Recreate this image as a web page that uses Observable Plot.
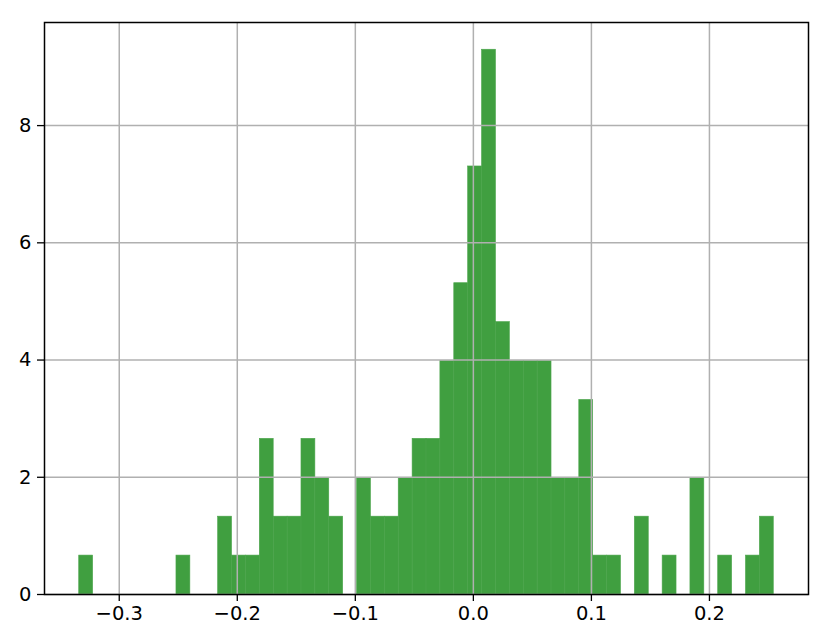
<!DOCTYPE html>
<html>
<head>
<meta charset="utf-8">
<script src="https://cdn.jsdelivr.net/npm/d3@7"></script>
<script src="https://cdn.jsdelivr.net/npm/@observablehq/plot@0.6"></script>
<style>
  html, body { margin: 0; padding: 0; background: #fff; }
  #chart { width: 831px; height: 644px; }
  #chart svg text { font-family: "DejaVu Sans", sans-serif !important; font-size: 19.5px !important; }
</style>
</head>
<body>
<div id="chart"></div>
<script>
// Histogram (density) of a sample; 50 equal bins between these edges
const binRangeMin = -0.3339;
const binRangeMax = 0.2545;
const binNumber = 50;
// counts per bin, left to right
const binCounts = [
  1, 0, 0, 0, 0, 0, 0, 1, 0, 0,
  2, 1, 1, 4, 2, 2, 4, 3, 2, 0,
  3, 2, 2, 3, 4, 4, 6, 8, 11, 14,
  7, 6, 6, 6, 3, 3, 5, 1, 1, 0,
  2, 0, 1, 0, 3, 0, 1, 0, 1, 2
];
const xTicks = [-0.3, -0.2, -0.1, 0.0, 0.1, 0.2];
const yTicks = [0, 2, 4, 6, 8];

const binW = (binRangeMax - binRangeMin) / binNumber;
const total = d3.sum(binCounts);
const bins = binCounts.map((c, i) => ({
  x1: binRangeMin + i * binW,
  x2: binRangeMin + (i + 1) * binW,
  density: c / (total * binW)
})).filter(d => d.density > 0);

const span = binRangeMax - binRangeMin;
const xDomain = [binRangeMin - 0.05 * span, binRangeMax + 0.05 * span];
const yMax = d3.max(bins, d => d.density) * 1.05;

const fmt = d => d.toFixed(1).replace("-", "\u2212");

const chart = Plot.plot({
  width: 831,
  height: 644,
  marginLeft: 44,
  marginRight: 23,
  marginTop: 22,
  marginBottom: 50,
  style: { fontFamily: "DejaVu Sans", fontSize: "19.5px", color: "black", background: "white" },
  x: { domain: xDomain },
  y: { domain: [0, yMax] },
  marks: [
    Plot.rect(bins, { x1: "x1", x2: "x2", y1: 0, y2: "density", fill: "#409f40", stroke: "#4aa44a", strokeWidth: 0.6, insetLeft: 0, insetRight: 0 }),
    Plot.gridX(xTicks, { stroke: "#b0b0b0", strokeOpacity: 1, strokeWidth: 1.5 }),
    Plot.gridY(yTicks, { stroke: "#b0b0b0", strokeOpacity: 1, strokeWidth: 1.5 }),
    Plot.axisX(xTicks, { tickFormat: fmt, tickSize: 7, tickPadding: 5, label: null, stroke: "black", strokeWidth: 1.3, fill: "black", fontSize: 19.5 }),
    Plot.axisY(yTicks, { tickFormat: d => String(d), tickSize: 7, tickPadding: 6, label: null, stroke: "black", strokeWidth: 1.3, fill: "black", fontSize: 19.5 }),
    Plot.frame({ stroke: "black", strokeWidth: 1.5 })
  ]
});
document.getElementById("chart").appendChild(chart);
</script>
</body>
</html>
